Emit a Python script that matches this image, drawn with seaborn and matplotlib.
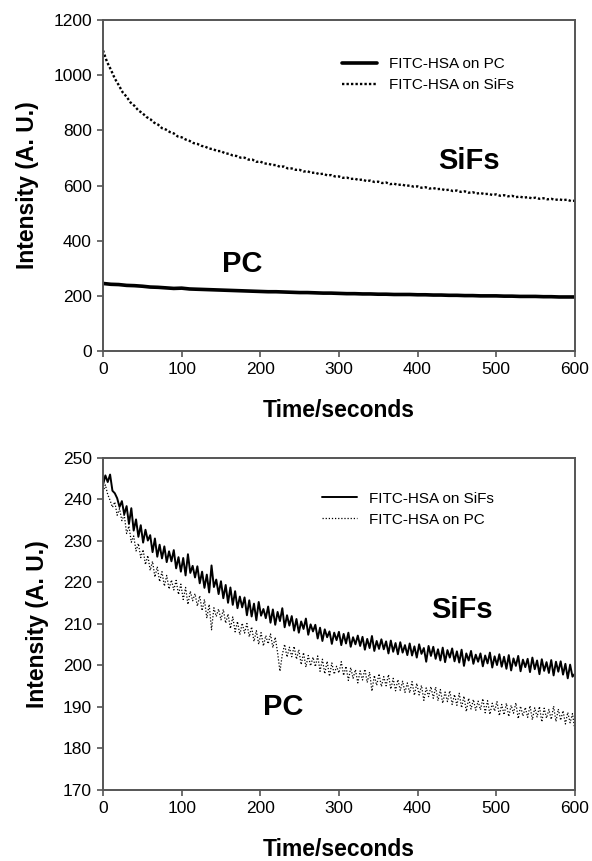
import numpy as np
import pandas as pd
import matplotlib
matplotlib.use("Agg")
import matplotlib.pyplot as plt
import seaborn as sns

# ---- top panel data ----
t_top_sifs = list(range(0, 601, 5))
top_sifs = [1090, 1049, 1020, 988, 964, 938, 922, 901, 889, 872,
            863, 849, 841, 828, 821, 808, 803, 794, 789, 778,
            775, 767, 762, 754, 751, 744, 741, 734, 732, 725,
            725, 717, 715, 709, 707, 701, 701, 694, 694, 686,
            687, 680, 679, 675, 674, 668, 669, 662, 662, 657,
            657, 651, 652, 646, 647, 641, 643, 637, 638, 633,
            633, 628, 629, 624, 625, 620, 622, 616, 618, 613,
            614, 609, 611, 605, 607, 602, 604, 599, 600, 596,
            597, 592, 594, 589, 591, 587, 588, 583, 585, 580,
            582, 577, 579, 574, 576, 571, 573, 569, 570, 566,
            568, 563, 565, 561, 563, 558, 560, 556, 558, 554,
            556, 552, 554, 550, 552, 548, 550, 547, 549, 544,
            545]

t_top_pc = list(range(0, 601, 10))
top_pc = [245, 242, 241, 238, 237, 235, 232, 231, 229, 227,
          228, 225, 224, 223, 222, 221, 220, 219, 218, 217,
          216, 215, 215, 214, 213, 212, 212, 211, 210, 210,
          209, 208, 208, 207, 207, 206, 206, 205, 205, 205,
          204, 204, 203, 203, 202, 202, 201, 201, 200, 200,
          200, 199, 199, 198, 198, 198, 197, 197, 196, 196,
          196]

# ---- bottom panel data ----
t_bot = list(range(0, 601, 3))
bot_sifs = [243.5, 245.8, 244.2, 246.0, 242.1, 241.5, 240.3, 238.2, 239.6, 236.4,
            238.4, 234.1, 237.9, 232.5, 235.2, 231.0, 233.8, 229.6, 232.7, 230.1,
            231.4, 227.3, 230.6, 226.2, 229.1, 225.8, 228.7, 224.9, 227.5, 225.1,
            227.8, 223.4, 226.1, 222.6, 225.9, 221.7, 226.8, 222.3, 224.0, 221.2,
            223.9, 219.8, 222.6, 218.7, 221.9, 217.6, 224.1, 218.9, 220.7, 217.2,
            220.3, 216.2, 219.4, 215.1, 218.8, 214.6, 217.9, 213.8, 216.6, 214.0,
            216.4, 212.1, 215.7, 211.8, 214.9, 210.9, 215.3, 212.0, 213.6, 211.4,
            214.2, 210.3, 213.5, 209.8, 212.9, 210.7, 213.8, 209.2, 212.1, 209.6,
            211.9, 208.4, 211.2, 207.9, 210.6, 208.8, 211.3, 207.4, 209.9, 208.2,
            209.8, 206.5, 209.1, 205.9, 208.7, 206.8, 208.2, 205.2, 207.9, 206.1,
            208.1, 204.9, 207.6, 205.3, 207.9, 204.5, 206.8, 205.1, 207.2, 204.7,
            206.9, 203.8, 206.4, 204.2, 207.1, 203.5, 205.9, 204.0, 206.3, 203.9,
            205.8, 202.9, 206.0, 203.3, 205.4, 202.7, 205.6, 203.1, 204.9, 202.5,
            205.3, 202.4, 204.6, 201.9, 205.1, 202.8, 204.2, 200.9, 204.7, 202.3,
            204.5, 201.6, 203.9, 201.2, 204.3, 200.8, 203.7, 201.9, 204.1, 201.0,
            203.4, 200.7, 203.8, 199.9, 202.9, 201.2, 203.5, 200.4, 202.6, 200.9,
            202.9, 199.8, 202.4, 200.5, 203.1, 199.5, 202.2, 200.1, 202.7, 199.7,
            202.1, 199.2, 202.5, 198.8, 201.7, 199.9, 202.3, 198.6, 201.4, 199.6,
            201.6, 198.4, 201.9, 199.1, 201.2, 197.9, 201.5, 198.7, 200.8, 198.2,
            201.3, 197.6, 200.9, 198.5, 201.0, 197.8, 200.4, 196.9, 200.2, 197.3,
            198.0]
bot_pc = [241.8, 243.5, 241.2, 239.8, 238.1, 239.4, 236.2, 237.8, 234.9, 236.3,
          231.8, 233.6, 229.7, 231.2, 227.6, 229.4, 226.0, 227.9, 224.3, 226.5,
          222.9, 225.1, 221.3, 223.8, 220.2, 222.6, 219.1, 221.7, 218.4, 220.6,
          218.2, 220.5, 217.1, 219.6, 215.9, 218.8, 214.7, 217.9, 215.6, 217.3,
          214.3, 216.8, 213.2, 215.9, 211.4, 214.7, 208.6, 213.9, 211.8, 213.6,
          211.0, 213.5, 210.2, 212.4, 208.9, 211.7, 208.1, 210.6, 207.4, 210.2,
          207.8, 210.1, 206.9, 209.3, 205.8, 208.4, 205.1, 207.9, 204.7, 207.2,
          205.2, 207.6, 204.3, 206.8, 203.1, 198.6, 202.6, 205.1, 202.0, 204.4,
          202.1, 204.6, 201.5, 203.8, 200.2, 203.1, 199.6, 202.4, 199.9, 202.0,
          199.7, 202.3, 198.6, 201.5, 198.0, 201.0, 197.4, 200.6, 197.9, 199.8,
          198.2, 200.9, 197.6, 199.8, 196.4, 199.5, 196.9, 199.0, 195.8, 198.7,
          196.5, 199.1, 195.9, 198.4, 193.8, 197.6, 195.2, 198.0, 194.9, 197.3,
          195.1, 197.8, 194.3, 196.9, 193.9, 196.6, 194.0, 196.2, 193.5, 195.8,
          193.4, 196.1, 192.8, 195.7, 192.9, 195.2, 191.6, 194.6, 192.5, 194.9,
          192.1, 194.8, 191.5, 194.2, 190.9, 193.6, 191.3, 193.9, 190.6, 193.0,
          190.4, 193.3, 189.8, 192.6, 188.9, 192.1, 189.5, 191.8, 189.2, 191.4,
          189.3, 192.0, 188.6, 191.5, 188.2, 190.9, 189.0, 191.3, 187.9, 190.6,
          188.1, 190.9, 187.7, 190.4, 188.5, 191.0, 187.2, 190.2, 187.8, 189.9,
          187.5, 190.3, 186.9, 189.8, 187.6, 190.1, 186.4, 189.7, 187.3, 189.4,
          187.0, 190.2, 186.5, 189.5, 186.8, 189.1, 185.9, 188.7, 186.2, 188.4,
          184.5]

sns.set_style("white")
plt.rcParams['font.family'] = ['Liberation Sans', 'DejaVu Sans']
plt.rcParams['text.color'] = 'black'
plt.rcParams['axes.labelcolor'] = 'black'

fig = plt.figure(figsize=(5.92, 8.61), dpi=100)
ax1 = fig.add_axes([0.174, 0.5923, 0.797, 0.3844])
ax2 = fig.add_axes([0.174, 0.0825, 0.797, 0.3856])

df_top_pc = pd.DataFrame({'t': t_top_pc, 'v': top_pc})
df_top_sifs = pd.DataFrame({'t': t_top_sifs, 'v': top_sifs})
sns.lineplot(data=df_top_pc, x='t', y='v', ax=ax1, color='black', lw=2.6,
             label='FITC-HSA on PC')
sns.lineplot(data=df_top_sifs, x='t', y='v', ax=ax1, color='black', lw=1.7,
             linestyle=(0, (1, 0.9)), label='FITC-HSA on SiFs')

df_bot_sifs = pd.DataFrame({'t': t_bot, 'v': bot_sifs})
df_bot_pc = pd.DataFrame({'t': t_bot, 'v': bot_pc})
sns.lineplot(data=df_bot_sifs, x='t', y='v', ax=ax2, color='black', lw=1.4,
             label='FITC-HSA on SiFs')
sns.lineplot(data=df_bot_pc, x='t', y='v', ax=ax2, color='black', lw=0.9,
             linestyle=(0, (1, 1.5)), label='FITC-HSA on PC')

for ax, ylim, yt, lx, ly in [(ax1, (0, 1200), range(0, 1201, 200), 0.506, 0.888),
                             (ax2, (170, 250), range(170, 251, 10), 0.464, 0.898)]:
    ax.set_xlim(0, 600)
    ax.set_ylim(*ylim)
    ax.set_xticks(range(0, 601, 100))
    ax.set_yticks(list(yt))
    for sp in ax.spines.values():
        sp.set_color('#555555')
        sp.set_linewidth(1.4)
    ax.tick_params(direction='out', length=4, width=1.2, color='#555555',
                   labelcolor='black', labelsize=12.5, pad=4, bottom=True, left=True)
    ax.set_xlabel('Time/seconds', fontsize=16.5, fontweight='bold', labelpad=16)
    ax.set_ylabel('Intensity (A. U.)', fontsize=16.5, fontweight='bold', labelpad=10)
    ax.legend(loc='upper left', bbox_to_anchor=(lx, ly), frameon=False,
              fontsize=11, handlelength=2.3, handletextpad=0.8,
              labelspacing=0.45, borderaxespad=0, borderpad=0)

ax1.text(466, 690, 'SiFs', fontsize=21, fontweight='bold', ha='center', va='center')
ax1.text(177, 316, 'PC', fontsize=21, fontweight='bold', ha='center', va='center')
ax2.text(456, 213.4, 'SiFs', fontsize=21, fontweight='bold', ha='center', va='center')
ax2.text(229, 190.1, 'PC', fontsize=21, fontweight='bold', ha='center', va='center')

fig.savefig('out.png', dpi=100)
